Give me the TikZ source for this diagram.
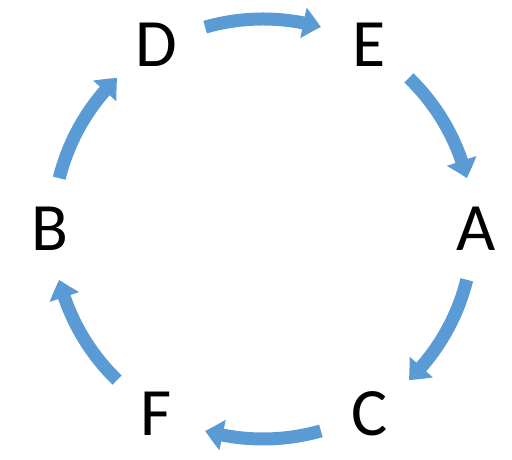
\documentclass[tikz,border=0pt]{standalone}
\usepackage{fontspec}
\setmainfont{Carlito}
\usetikzlibrary{arrows.meta,bending,calc}
\definecolor{arrowblue}{HTML}{5B9BD5}
\tikzset{
  lbl/.style={font=\fontsize{68}{68}\selectfont, text=black, inner sep=0pt},
  cyc/.style={draw=arrowblue, line width=13bp, -{Triangle[width=30bp,length=18bp,bend]}}
}
\begin{document}
\begin{tikzpicture}[x=1bp,y=1bp]
\useasboundingbox (0,0) rectangle (512,460);
\coordinate (O) at (263,231);
\node[lbl] (A) at ($(O)+(0:213)$) {A};
\node[lbl] (E) at ($(O)+(60:213)$) {E};
\node[lbl] (D) at ($(O)+(120:213)$) {D};
\node[lbl] (B) at ($(O)+(180:213)$) {B};
\node[lbl] (F) at ($(O)+(240:213)$) {F};
\node[lbl] (C) at ($(O)+(300:213)$) {C};
\foreach \m in {90,30,-30,-90,-150,150}{
  \draw[cyc] (O) ++(\m+16:210) arc[start angle=\m+16, end angle=\m-16, radius=210];
}
\end{tikzpicture}
\end{document}
